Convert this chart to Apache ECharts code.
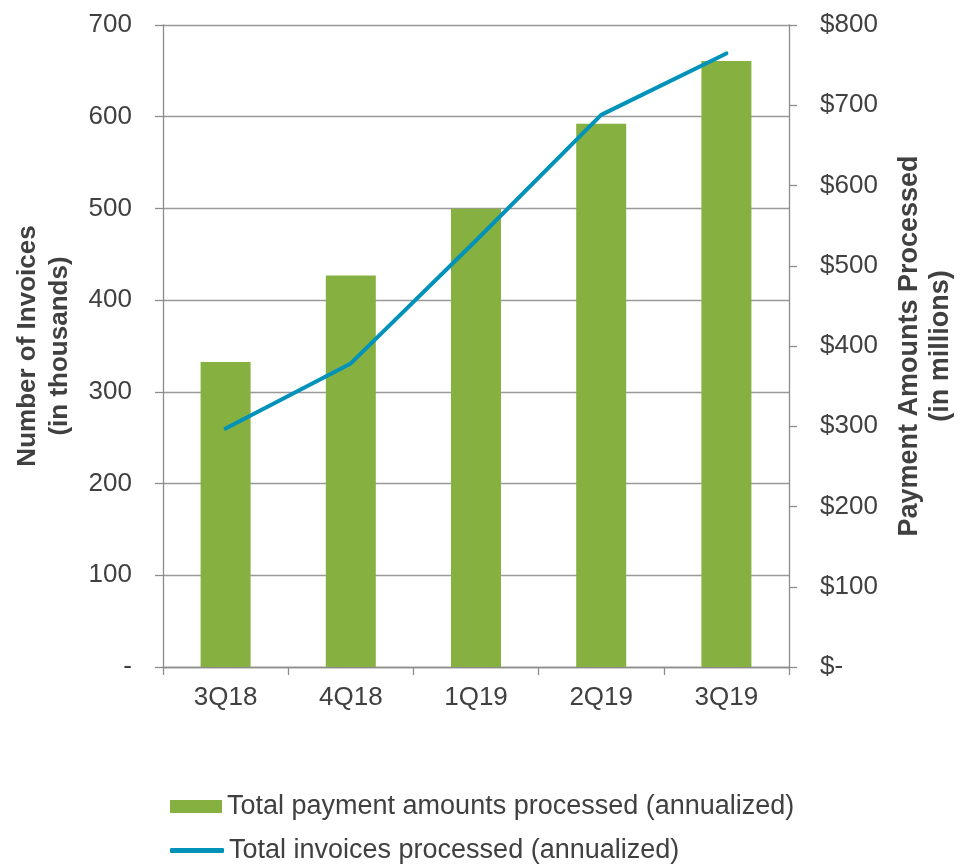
<!DOCTYPE html>
<html>
<head>
<meta charset="utf-8">
<script src="https://cdn.jsdelivr.net/npm/echarts@6/dist/echarts.min.js"></script>
<style>
  html, body { margin: 0; padding: 0; background: #fff; }
  #chart { width: 964px; height: 866px; }
</style>
</head>
<body>
<div id="chart"></div>
<script>
// quarters on the x axis
var quarters = ["3Q18", "4Q18", "1Q19", "2Q19", "3Q19"];
// payment amounts processed, $ millions (right axis)
var paymentAmounts = [380, 488, 571, 677, 755];
// invoices processed, thousands (left axis)
var invoiceCounts = [260, 331, 465, 602, 669];

var barName = "Total payment amounts processed (annualized)";
var lineName = "Total invoices processed (annualized)";
var textColor = "#404040";
var axisColor = "#8c8c8c";
var fontFam = "Liberation Sans, Arial, sans-serif";

var chart = echarts.init(document.getElementById("chart"));
chart.setOption({
  animation: false,
  textStyle: { fontFamily: fontFam, color: textColor },
  grid: { left: 163, right: 175, top: 25, bottom: 199, containLabel: false, outerBoundsMode: "none" },
  legend: [
    {
      left: 170,
      top: 793,
      padding: 0,
      itemWidth: 52,
      itemHeight: 13,
      textStyle: { fontSize: 27, color: textColor, fontFamily: fontFam },
      data: [{ name: barName, icon: "rect" }]
    },
    {
      left: 170,
      top: 837,
      padding: 0,
      itemWidth: 54,
      itemHeight: 5,
      textStyle: { fontSize: 27, color: textColor, fontFamily: fontFam },
      data: [{ name: lineName, icon: "roundRect" }]
    }
  ],
  xAxis: {
    type: "category",
    data: quarters,
    axisLine: { lineStyle: { color: axisColor, width: 1.3 } },
    axisTick: { show: true, length: 8, lineStyle: { color: axisColor, width: 1.3 } },
    axisLabel: { fontSize: 26, color: textColor, margin: 18 }
  },
  yAxis: [
    {
      type: "value",
      min: 0,
      max: 700,
      interval: 100,
      position: "left",
      name: "Number of Invoices\n(in thousands)",
      nameLocation: "middle",
      nameRotate: 90,
      nameGap: 87,
      nameTextStyle: { fontSize: 26, fontWeight: "bold", color: textColor, lineHeight: 32 },
      axisLine: { show: true, lineStyle: { color: axisColor, width: 1.3 } },
      axisTick: { show: true, length: 8, lineStyle: { color: axisColor, width: 1.3 } },
      axisLabel: {
        fontSize: 26, color: textColor, margin: 31,
        formatter: function (v) { return v === 0 ? "-" : String(v); }
      },
      splitLine: { show: true, lineStyle: { color: "#999999", width: 1.3 } }
    },
    {
      type: "value",
      min: 0,
      max: 800,
      interval: 100,
      position: "right",
      name: "Payment Amounts Processed\n(in millions)",
      nameLocation: "middle",
      nameRotate: 90,
      nameGap: 105,
      nameTextStyle: { fontSize: 27, fontWeight: "bold", color: textColor, lineHeight: 31 },
      axisLine: { show: true, lineStyle: { color: axisColor, width: 1.3 } },
      axisTick: { show: true, length: 8, lineStyle: { color: axisColor, width: 1.3 } },
      axisLabel: {
        fontSize: 26, color: textColor, margin: 31,
        formatter: function (v) { return v === 0 ? "$-" : "$" + v; }
      },
      splitLine: { show: false }
    }
  ],
  series: [
    {
      name: barName,
      type: "bar",
      yAxisIndex: 1,
      barWidth: 50,
      itemStyle: { color: "#86b141" },
      data: paymentAmounts
    },
    {
      name: lineName,
      type: "line",
      yAxisIndex: 0,
      symbol: "none",
      lineStyle: { color: "#0092b9", width: 4, cap: "round", join: "round" },
      itemStyle: { color: "#0092b9" },
      data: invoiceCounts
    }
  ]
});
</script>
</body>
</html>
